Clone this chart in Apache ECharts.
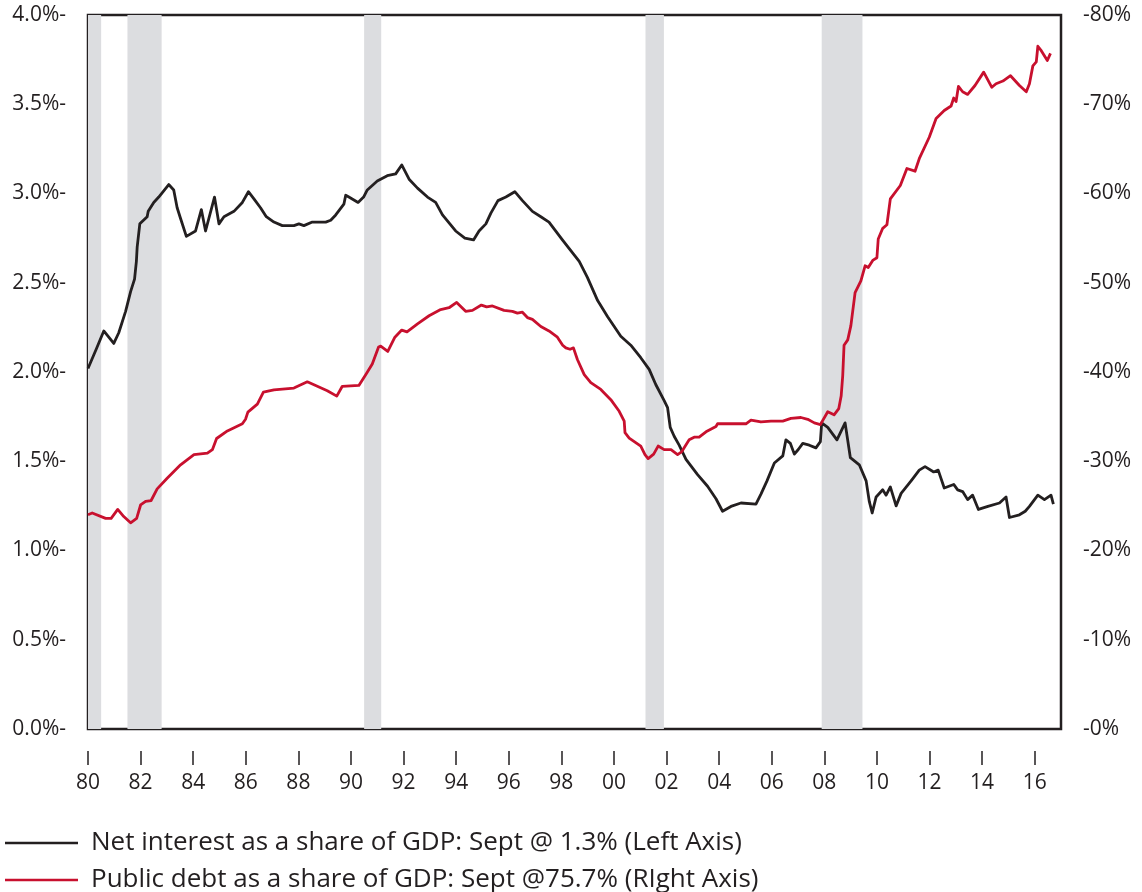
<!DOCTYPE html>
<html>
<head>
<meta charset="utf-8">
<script src="https://cdn.jsdelivr.net/npm/echarts@6/dist/echarts.min.js"></script>
<style>
html,body{margin:0;padding:0;background:#fff;}
#chart{width:1142px;height:892px;}
</style>
</head>
<body>
<div id="chart"></div>
<script>
// ---- data ----
var interestYears = [1980.0,1980.32,1980.6,1980.98,1981.17,1981.43,1981.62,1981.77,1981.84,1981.87,1981.97,1982.25,1982.29,1982.5,1982.69,1983.07,1983.26,1983.39,1983.52,1983.74,1984.09,1984.31,1984.47,1984.81,1984.98,1985.17,1985.55,1985.87,1986.1,1986.31,1986.56,1986.78,1987.07,1987.39,1987.83,1988.02,1988.21,1988.53,1989.04,1989.23,1989.42,1989.73,1989.8,1989.92,1990.27,1990.48,1990.62,1991.0,1991.38,1991.7,1991.93,1992.21,1992.53,1992.91,1993.22,1993.48,1993.98,1994.33,1994.66,1994.87,1995.13,1995.32,1995.59,1995.89,1996.23,1996.52,1996.9,1997.22,1997.53,1998.04,1998.68,1998.99,1999.38,1999.76,2000.26,2000.64,2001.02,2001.34,2001.59,2001.91,2002.04,2002.14,2002.29,2002.48,2002.74,2003.18,2003.56,2003.88,2004.13,2004.45,2004.83,2005.4,2005.59,2005.82,2006.1,2006.42,2006.54,2006.71,2006.86,2007.01,2007.18,2007.43,2007.68,2007.85,2007.9,2008.13,2008.48,2008.79,2008.99,2009.33,2009.59,2009.71,2009.82,2009.97,2010.22,2010.35,2010.51,2010.73,2010.92,2011.3,2011.61,2011.83,2012.16,2012.33,2012.56,2012.92,2013.07,2013.26,2013.45,2013.64,2013.86,2014.22,2014.66,2014.91,2015.04,2015.42,2015.64,2015.8,2016.12,2016.37,2016.62,2016.71];
var interestValues = [2.02,2.13,2.23,2.16,2.22,2.34,2.45,2.52,2.62,2.70,2.83,2.87,2.90,2.95,2.98,3.05,3.02,2.92,2.86,2.76,2.79,2.91,2.79,2.98,2.83,2.87,2.90,2.95,3.01,2.97,2.92,2.87,2.84,2.82,2.82,2.83,2.82,2.84,2.84,2.85,2.88,2.94,2.99,2.98,2.95,2.98,3.02,3.07,3.10,3.11,3.16,3.08,3.03,2.98,2.95,2.88,2.79,2.75,2.74,2.79,2.83,2.89,2.96,2.98,3.01,2.96,2.90,2.87,2.84,2.74,2.62,2.53,2.40,2.31,2.20,2.15,2.08,2.015,1.93,1.84,1.80,1.69,1.64,1.59,1.51,1.425,1.36,1.29,1.22,1.247,1.266,1.26,1.316,1.39,1.49,1.53,1.62,1.60,1.54,1.566,1.60,1.59,1.575,1.61,1.715,1.69,1.62,1.715,1.52,1.48,1.39,1.275,1.21,1.30,1.34,1.31,1.356,1.25,1.32,1.39,1.45,1.47,1.44,1.45,1.35,1.37,1.34,1.33,1.285,1.31,1.23,1.247,1.266,1.30,1.185,1.20,1.22,1.247,1.31,1.285,1.31,1.26];

var debtYears = [1980.0,1980.16,1980.67,1980.88,1981.13,1981.36,1981.62,1981.85,1982.0,1982.19,1982.4,1982.63,1983.01,1983.52,1984.03,1984.54,1984.73,1984.89,1985.3,1985.87,1985.99,1986.08,1986.44,1986.67,1987.07,1987.83,1988.34,1989.1,1989.46,1989.67,1990.3,1990.56,1990.81,1991.05,1991.13,1991.4,1991.67,1991.93,1992.13,1992.53,1992.97,1993.41,1993.73,1994.02,1994.36,1994.62,1994.96,1995.16,1995.38,1995.82,1996.14,1996.33,1996.52,1996.71,1996.9,1997.22,1997.53,1997.85,1998.05,1998.17,1998.33,1998.46,1998.61,1998.87,1999.12,1999.5,1999.88,2000.2,2000.39,2000.42,2000.58,2001.02,2001.18,2001.3,2001.51,2001.68,2001.91,2002.17,2002.42,2002.57,2002.86,2003.05,2003.24,2003.5,2003.88,2003.94,2004.57,2005.02,2005.21,2005.59,2005.97,2006.42,2006.73,2007.11,2007.37,2007.62,2007.85,2008.13,2008.37,2008.55,2008.64,2008.7,2008.75,2008.89,2009.01,2009.17,2009.39,2009.55,2009.67,2009.84,2010.0,2010.05,2010.22,2010.38,2010.51,2010.89,2011.14,2011.45,2011.61,2011.99,2012.25,2012.56,2012.82,2012.92,2013.01,2013.1,2013.26,2013.45,2013.73,2014.06,2014.37,2014.53,2014.79,2015.08,2015.42,2015.68,2015.8,2015.93,2016.06,2016.12,2016.25,2016.48,2016.6];
var debtValues = [24.0,24.2,23.6,23.6,24.6,23.8,23.1,23.6,25.1,25.5,25.6,26.9,28.1,29.6,30.75,30.9,31.3,32.55,33.4,34.2,34.7,35.5,36.4,37.75,38.0,38.2,38.9,37.9,37.3,38.4,38.5,39.7,40.9,42.8,42.9,42.3,43.9,44.7,44.5,45.4,46.3,47.0,47.2,47.8,46.8,46.9,47.5,47.3,47.4,46.9,46.8,46.6,46.7,46.1,45.9,45.1,44.6,43.9,43.0,42.7,42.55,42.7,41.4,39.7,38.8,38.05,36.9,35.6,34.5,33.2,32.6,31.7,30.75,30.3,30.8,31.7,31.3,31.3,30.75,31.05,32.4,32.7,32.7,33.3,33.9,34.2,34.2,34.2,34.6,34.4,34.5,34.5,34.8,34.9,34.7,34.3,34.1,35.55,35.2,35.9,37.3,39.6,43.0,43.6,45.2,48.9,50.2,51.9,51.7,52.5,52.8,54.9,56.1,56.5,59.4,60.9,62.8,62.5,63.9,66.3,68.4,69.3,69.8,70.7,70.3,72.0,71.4,71.1,72.1,73.6,71.9,72.3,72.6,73.2,72.1,71.4,72.3,74.3,74.75,76.5,76.0,74.9,75.7];

var recessionStarts = [1980.0, 1981.5, 1990.5, 2001.2, 2007.9];
var recessionEnds   = [1980.5, 1982.8, 1991.15, 2001.9, 2009.45];

var xTickYears = [1980,1982,1984,1986,1988,1990,1992,1994,1996,1998,2000,2002,2004,2006,2008,2010,2012,2014,2016];

var interestName = 'Net interest as a share of GDP: Sept @ 1.3% (Left Axis)';
var debtName = 'Public debt as a share of GDP: Sept @75.7% (RIght Axis)';

// ---- build ----
function zip(a, b) { return a.map(function (v, i) { return [v, b[i]]; }); }
var bands = recessionStarts.map(function (s, i) { return [{ xAxis: s }, { xAxis: recessionEnds[i] }]; });

var INK = '#231f20';
var RED = '#c8102e';
var FONT = 'Open Sans';
var X_MIN = 1980, X_MAX = 2017;

function legendFor(name, top) {
  return {
    orient: 'vertical', left: 5, top: top, padding: 0,
    icon: 'rect', itemWidth: 73, itemHeight: 2.5, itemGap: 0,
    textStyle: { fontFamily: FONT, fontSize: 26, color: INK, padding: [0, 0, 0, 8] },
    selectedMode: false,
    data: [name]
  };
}

var chart = echarts.init(document.getElementById('chart'), null, { renderer: 'canvas' });
chart.setOption({
  animation: false,
  backgroundColor: '#ffffff',
  textStyle: { fontFamily: FONT, color: INK },
  grid: [
    { left: 88, right: 81, top: 15, bottom: 163,
      show: true, borderColor: INK, borderWidth: 2.5, backgroundColor: 'transparent' },
    { left: 88, right: 81, top: 15, bottom: 141, show: false }
  ],
  legend: [legendFor(interestName, 830), legendFor(debtName, 867)],
  xAxis: [
    {
      gridIndex: 0, type: 'value', min: X_MIN, max: X_MAX,
      axisLine: { show: false }, axisTick: { show: false }, axisLabel: { show: false },
      splitLine: { show: false }
    },
    {
      gridIndex: 1, type: 'value', min: X_MIN, max: X_MAX, interval: 2,
      axisLine: { show: false },
      axisTick: { show: true, length: 14, inside: false, lineStyle: { color: INK, width: 1.5 }, customValues: xTickYears },
      axisLabel: {
        customValues: xTickYears,
        margin: 22, fontFamily: FONT, fontSize: 21, color: INK,
        formatter: function (v) { return xTickYears.indexOf(v) >= 0 ? String(v).slice(2) : ''; }
      },
      splitLine: { show: false }
    }
  ],
  yAxis: [
    {
      gridIndex: 0, type: 'value', min: 0, max: 4, interval: 0.5, position: 'left',
      axisLine: { show: false }, axisTick: { show: false }, splitLine: { show: false },
      axisLabel: { margin: 22, fontFamily: FONT, fontSize: 21, color: INK,
        formatter: function (v) { return v.toFixed(1) + '%-'; } }
    },
    {
      gridIndex: 0, type: 'value', min: 0, max: 80, interval: 10, position: 'right',
      axisLine: { show: false }, axisTick: { show: false }, splitLine: { show: false },
      axisLabel: { margin: 22, fontFamily: FONT, fontSize: 21, color: INK,
        formatter: function (v) { return '-' + v + '%'; } }
    },
    {
      gridIndex: 1, type: 'value', min: 0, max: 1, show: false
    }
  ],
  series: [
    {
      name: interestName, type: 'line', xAxisIndex: 0, yAxisIndex: 0, z: 3,
      data: zip(interestYears, interestValues),
      showSymbol: false, symbol: 'none',
      lineStyle: { color: INK, width: 2.8, join: 'round' },
      itemStyle: { color: INK },
      markArea: { silent: true, z: 1, itemStyle: { color: '#dcdde0' }, data: bands }
    },
    {
      name: debtName, type: 'line', xAxisIndex: 0, yAxisIndex: 1, z: 4,
      data: zip(debtYears, debtValues),
      showSymbol: false, symbol: 'none',
      lineStyle: { color: RED, width: 2.8, join: 'round' },
      itemStyle: { color: RED }
    }
  ]
});
</script>
</body>
</html>
